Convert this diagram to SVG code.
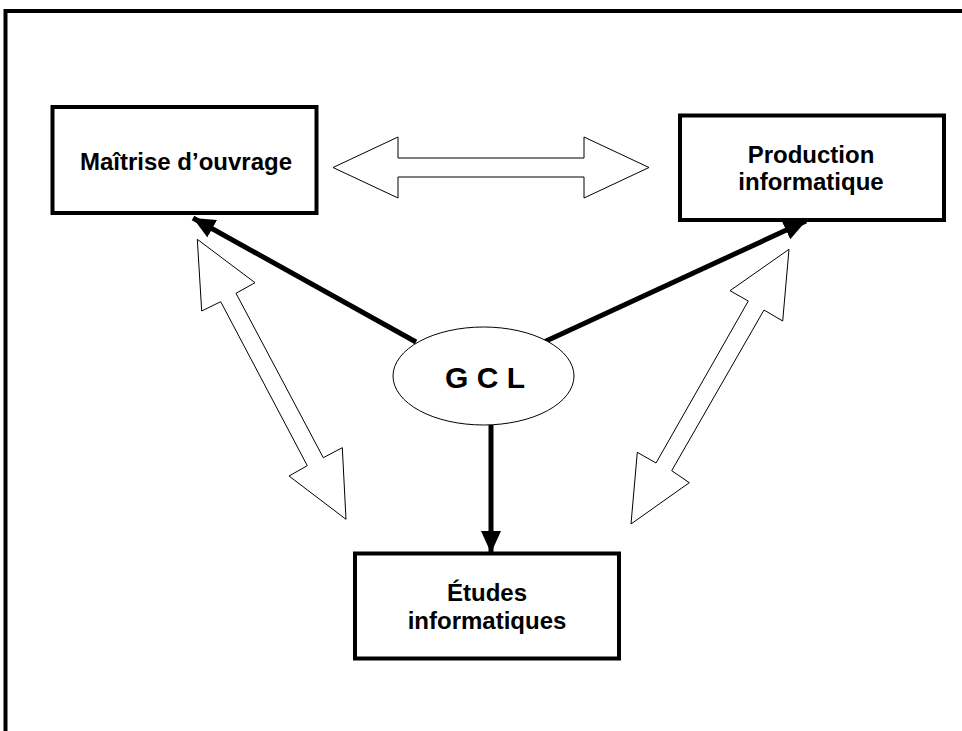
<svg xmlns="http://www.w3.org/2000/svg" width="962" height="731" viewBox="0 0 962 731">
<style>
.box{fill:#fff;stroke:#000;stroke-width:4}
.lbl{font-family:"Liberation Sans",Arial,sans-serif;font-weight:bold;font-size:24px;fill:#000;text-anchor:middle}
.hollow{fill:#fff;stroke:#000;stroke-width:1}
.link{stroke:#000;stroke-width:5;fill:none;marker-end:url(#ah)}
</style>
<defs>
<marker id="ah" markerUnits="userSpaceOnUse" markerWidth="24" markerHeight="20" viewBox="0 0 24 20" refX="22" refY="10" orient="auto">
<path d="M0,0 L22,10 L0,20 z" fill="#000"/>
</marker>
</defs>
<rect x="5.5" y="11" width="1000" height="1000" fill="#fff" stroke="#000" stroke-width="4"/>
<g id="connectors">
<line class="link" x1="416" y1="342" x2="193" y2="218"/>
<line class="link" x1="544" y1="342" x2="806" y2="221"/>
<line class="link" x1="491" y1="425" x2="491" y2="553"/>
<polygon class="hollow" points="333,167.5 398,137 398,158 584,158 584,137 649,167.5 584,198 584,177 398,177 398,198"/>
<polygon class="hollow" points="197.3,239.3 255,282.7 236,293.3 323.3,457.7 342.3,447.7 346,519.3 289,476 307.3,465.7 220.7,301.7 201.7,311"/>
<polygon class="hollow" points="789,249.3 782.7,321 764,310 671.7,470.7 689.3,482.7 631,524 637.3,452.3 656,463 748.3,301 730,290.7"/>
</g>
<g id="maitrise">
<rect class="box" x="52.5" y="107" width="264" height="106"/>
<text class="lbl" x="186" y="170">Maîtrise d’ouvrage</text>
</g>
<g id="production">
<rect class="box" x="680" y="115.5" width="264" height="104.5"/>
<text class="lbl" x="811" y="163">Production</text>
<text class="lbl" x="811" y="190">informatique</text>
</g>
<g id="etudes">
<rect class="box" x="355" y="553.5" width="264" height="105"/>
<text class="lbl" x="487" y="601">Études</text>
<text class="lbl" x="487" y="629">informatiques</text>
</g>
<g id="gcl">
<ellipse cx="483.5" cy="376" rx="90.5" ry="49" fill="#fff" stroke="#000" stroke-width="1"/>
<text class="lbl" x="485" y="388" style="font-size:30px">G C L</text>
</g>
</svg>
